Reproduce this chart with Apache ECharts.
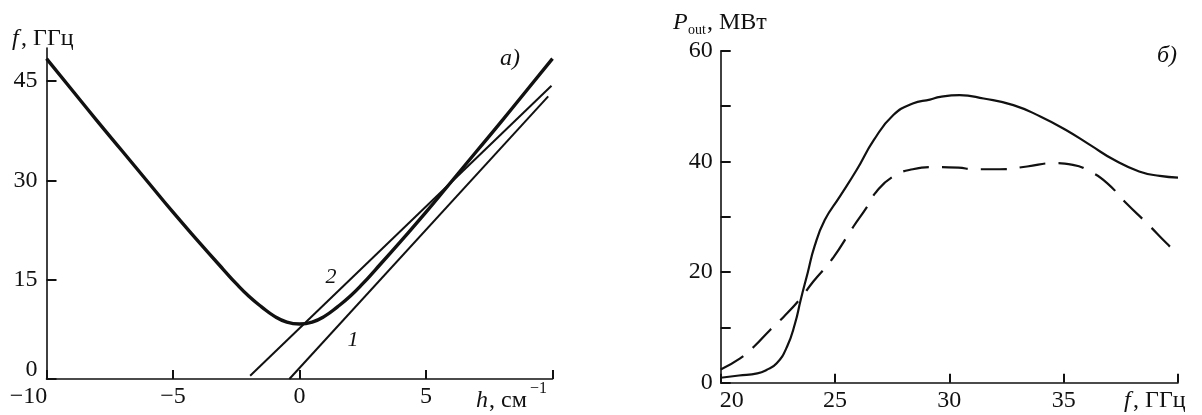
<!DOCTYPE html>
<html>
<head>
<meta charset="utf-8">
<script src="https://cdn.jsdelivr.net/npm/echarts@6.0.0/dist/echarts.min.js"></script>
<style>
  html, body { margin: 0; padding: 0; background: #fff; }
  #chart { width: 1202px; height: 415px; }
</style>
</head>
<body>
<div id="chart"></div>
<script>
// панель а): дисперсия волновода (жирная) и прямые 1, 2
const leftH = [-10, -9, -8, -7, -6, -5, -4, -3, -2.5, -2, -1.5, -1, -0.5, 0, 0.5, 1, 1.5, 2, 2.5, 3, 4, 5, 6, 7, 8, 9, 10]
const leftF = [48.4, 43.7, 39.0, 34.4, 29.8, 25.2, 20.8, 16.5, 14.4, 12.5, 10.9, 9.5, 8.6, 8.3, 8.6, 9.5, 10.9, 12.5, 14.4, 16.5, 20.8, 25.2, 29.8, 34.4, 39.0, 43.7, 48.4]
const line1H = [-0.4, 9.83]
const line1F = [0, 42.7]
const line2H = [-1.95, 9.96]
const line2F = [0.5, 44.3]

// панель б): выходная мощность
const solidF = [20, 20.8, 21.6, 22.0, 22.45, 22.9, 23.25, 23.5, 23.8, 24.1, 24.55, 25.2, 25.95, 26.7, 27.55, 28.4, 29.15, 29.6, 30.45, 31.5, 32.8, 34.0, 35.1, 36.15, 37.2, 38.3, 39.2, 40]
const solidP = [0.9, 1.3, 1.7, 2.3, 3.5, 6.5, 10.7, 15.0, 19.8, 24.6, 29.4, 33.6, 38.5, 43.9, 48.4, 50.5, 51.2, 51.7, 52.0, 51.4, 50.2, 48.1, 45.7, 43.0, 40.3, 38.2, 37.4, 37.1]
const dashF = [20, 20.85, 21.45, 22.15, 22.75, 23.5, 24.05, 24.9, 25.8, 26.4, 26.8, 27.55, 28.4, 29.3, 30.4, 31.05, 32.2, 33.4, 34.55, 35.4, 36.15, 36.9, 37.75, 38.65, 39.5, 39.95]
const dashP = [2.4, 4.4, 6.5, 9.5, 11.9, 15.3, 18.3, 22.5, 28.2, 31.8, 34.5, 37.3, 38.6, 39.0, 38.9, 38.6, 38.6, 39.1, 39.7, 39.4, 38.2, 36.1, 32.4, 28.8, 25.2, 23.4]

// деления и подписи осей
const leftXTicks = [-10, -5, 0, 5, 10]
const leftXLabels = [-10, -5, 0, 5]
const leftYLabels = [0, 15, 30, 45]
const rightXTicks = [20, 25, 30, 35, 40]
const rightXLabels = [20, 25, 30, 35]
const rightYTicks = [0, 10, 20, 30, 40, 50, 60]
const rightYLabels = [0, 20, 40, 60]

const zip = (a, b) => a.map((v, i) => [v, b[i]])
const font = '"Liberation Serif", "DejaVu Serif", serif'
const black = '#111'

function axisBase () {
  return {
    type: 'value',
    splitLine: { show: false },
    axisLine: { onZero: false, lineStyle: { color: black, width: 1.6 } },
    axisTick: { inside: true, length: 10, lineStyle: { color: black, width: 2 } },
    axisLabel: { color: black, fontFamily: font, fontSize: 24 }
  }
}

const chart = echarts.init(document.getElementById('chart'))

const lx = axisBase()
Object.assign(lx, { gridIndex: 0, min: -10, max: 10, interval: 5 })
lx.axisTick = Object.assign({}, lx.axisTick, { length: 9, customValues: leftXTicks })
lx.axisLabel = Object.assign({}, lx.axisLabel, {
  margin: 6,
  customValues: leftXLabels,
  formatter: v => v === -10 ? '{s|−10}' : String(v).replace('-', '−'),
  rich: { s: { fontFamily: font, fontSize: 24, color: black, padding: [0, 36, 0, 0] } }
})

const ly = axisBase()
Object.assign(ly, { gridIndex: 0, min: 0, max: 50, interval: 5 })
ly.axisTick = Object.assign({}, ly.axisTick, { customValues: leftYLabels })
ly.axisLabel = Object.assign({}, ly.axisLabel, {
  margin: 9,
  customValues: leftYLabels,
  formatter: v => v === 0 ? '{z|0}' : String(v),
  rich: { z: { fontFamily: font, fontSize: 24, color: black, padding: [0, 0, 18, 0] } }
})

const rx = axisBase()
Object.assign(rx, { gridIndex: 1, min: 20, max: 40, interval: 5 })
rx.axisTick = Object.assign({}, rx.axisTick, { length: 9, customValues: rightXTicks })
rx.axisLabel = Object.assign({}, rx.axisLabel, {
  margin: 6,
  customValues: rightXLabels,
  formatter: v => v === 20 ? '{s|20}' : String(v),
  rich: { s: { fontFamily: font, fontSize: 24, color: black, padding: [0, 0, 0, 22] } }
})

const ry = axisBase()
Object.assign(ry, { gridIndex: 1, min: 0, max: 60, interval: 10 })
ry.axisTick = Object.assign({}, ry.axisTick, { customValues: rightYTicks })
ry.axisLabel = Object.assign({}, ry.axisLabel, { margin: 8, customValues: rightYLabels })

function txt (x, y, text, size, italic, align) {
  return {
    type: 'text',
    x: x,
    y: y,
    style: {
      text: text,
      fill: black,
      fontFamily: font,
      fontSize: size,
      fontStyle: italic ? 'italic' : 'normal',
      align: align || 'left',
      verticalAlign: 'middle'
    }
  }
}

chart.setOption({
  animation: false,
  backgroundColor: '#fff',
  grid: [
    { left: 46.5, top: 48, width: 506, height: 331 },
    { left: 720.7, top: 50.9, width: 457.3, height: 331.8 }
  ],
  xAxis: [lx, rx],
  yAxis: [ly, ry],
  series: [
    {
      type: 'line',
      xAxisIndex: 0,
      yAxisIndex: 0,
      data: zip(leftH, leftF),
      smooth: 0.5,
      showSymbol: false,
      lineStyle: { color: black, width: 3.4 }
    },
    {
      type: 'line',
      xAxisIndex: 0,
      yAxisIndex: 0,
      data: zip(line1H, line1F),
      showSymbol: false,
      lineStyle: { color: black, width: 2 }
    },
    {
      type: 'line',
      xAxisIndex: 0,
      yAxisIndex: 0,
      data: zip(line2H, line2F),
      showSymbol: false,
      lineStyle: { color: black, width: 2 }
    },
    {
      type: 'line',
      xAxisIndex: 1,
      yAxisIndex: 1,
      data: zip(solidF, solidP),
      smooth: 0.5,
      showSymbol: false,
      lineStyle: { color: black, width: 2.2 }
    },
    {
      type: 'line',
      xAxisIndex: 1,
      yAxisIndex: 1,
      data: zip(dashF, dashP),
      smooth: 0.5,
      showSymbol: false,
      lineStyle: { color: black, width: 2.2, type: [26, 13] }
    }
  ],
  graphic: [
    // подписи осей панели а)
    txt(12, 39, 'f', 24, true),
    txt(21, 39, ', ГГц', 24, false),
    txt(476, 401, 'h', 24, true),
    txt(489, 401, ', см', 24, false),
    txt(530, 389, '−1', 16, false),
    txt(510, 59, 'а)', 24, true, 'center'),
    txt(331, 277, '2', 22, true, 'center'),
    txt(353, 340, '1', 22, true, 'center'),
    // подписи осей панели б)
    txt(673, 23, 'P', 24, true),
    txt(688, 30, 'out', 14, false),
    txt(707, 23, ', МВт', 24, false),
    txt(1124, 401, 'f', 24, true),
    txt(1133, 401, ', ГГц', 24, false),
    txt(1167, 56, 'б)', 24, true, 'center')
  ]
})
</script>
</body>
</html>
